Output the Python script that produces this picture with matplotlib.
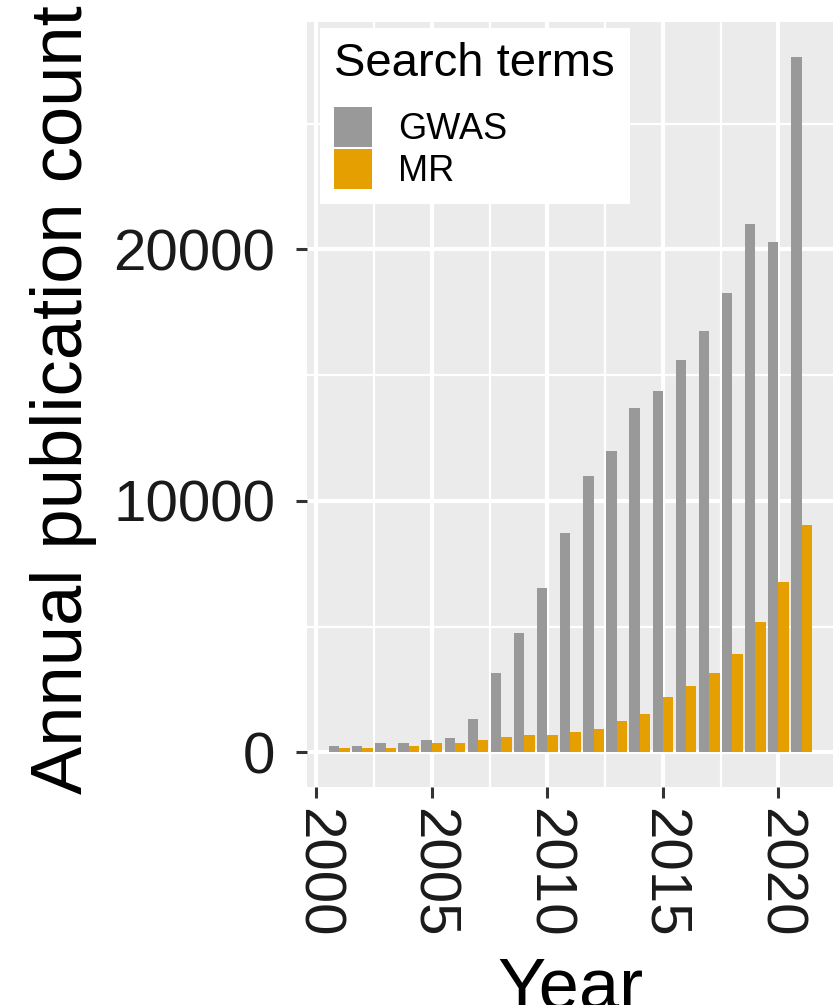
import numpy as np
import matplotlib
matplotlib.use("Agg")
import matplotlib.pyplot as plt

plt.rcParams['font.family'] = ['Liberation Sans', 'DejaVu Sans']

# data
years = np.arange(2001, 2022)
gwas = [250, 260, 350, 360, 480, 580, 1330, 3150, 4740, 6550, 8730,
        11000, 12000, 13700, 14350, 15600, 16750, 18250, 21000, 20300, 27650]
mr = [150, 150, 160, 260, 380, 380, 480, 600, 690, 690, 790,
      930, 1230, 1540, 2180, 2620, 3150, 3900, 5180, 6780, 9020]
series_names = ["GWAS", "MR"]
series_colors = ["#999999", "#E69F00"]
x_ticks = [2000, 2005, 2010, 2015, 2020]
y_ticks = [0, 10000, 20000]

W, H = 833, 1005
fig = plt.figure(figsize=(W / 100, H / 100), dpi=100)

# panel placed in pixel units (left, top, right, bottom)
pl, pt, pr, pb = 307, 22.3, 833, 787
ax = fig.add_axes([pl / W, 1 - pb / H, (pr - pl) / W, (pb - pt) / H])
ax.set_facecolor("#EBEBEB")

bw = 0.45
b1 = ax.bar(years - bw / 2, gwas, width=bw, color=series_colors[0], label=series_names[0])
b2 = ax.bar(years + bw / 2, mr, width=bw, color=series_colors[1], label=series_names[1])

# ggplot-like limits
ymax = max(gwas)
ax.set_ylim(-0.05 * ymax, 1.05 * ymax)
ax.set_xlim(1999.6, 2022.36)

ax.set_xticks(x_ticks)
ax.set_yticks(y_ticks)
ax.set_xticks([2002.5, 2007.5, 2012.5, 2017.5], minor=True)
ax.set_yticks([5000, 15000, 25000], minor=True)
ax.set_axisbelow(True)
ax.grid(which='major', color='white', linewidth=3.0)
ax.grid(which='minor', color='white', linewidth=1.6)
for s in ax.spines.values():
    s.set_visible(False)

ax.tick_params(which='major', length=8, width=2.2, color='#333333',
               labelsize=42, labelcolor='#1a1a1a')
ax.tick_params(which='minor', length=0)
ax.tick_params(axis='y', pad=15)
ax.tick_params(axis='x', pad=7, labelrotation=270)

ax.set_ylabel("Annual publication count", fontsize=52, color='black')
ax.yaxis.set_label_coords((97 - pl) / (pr - pl), 0.5 + 5 / (pb - pt))
ax.set_xlabel("Year", fontsize=52, color='black')
ax.xaxis.set_label_coords(0.5, -(956 - pb) / (pb - pt))

fs = 26
leg = ax.legend(handles=[b1, b2], title="Search terms", fontsize=fs, title_fontsize=34,
                loc='upper left', bbox_to_anchor=(320 / W, 1 - 28 / H),
                bbox_transform=fig.transFigure, borderaxespad=0,
                frameon=True, fancybox=False, framealpha=1, edgecolor='none',
                facecolor='white', borderpad=0.4, handlelength=1.05,
                handleheight=1.33, handletextpad=0.72, labelspacing=0.05,
                alignment='left')
# gap between title and keys
leg._legend_box.sep = 15

plt.savefig("out.png", dpi=100)
